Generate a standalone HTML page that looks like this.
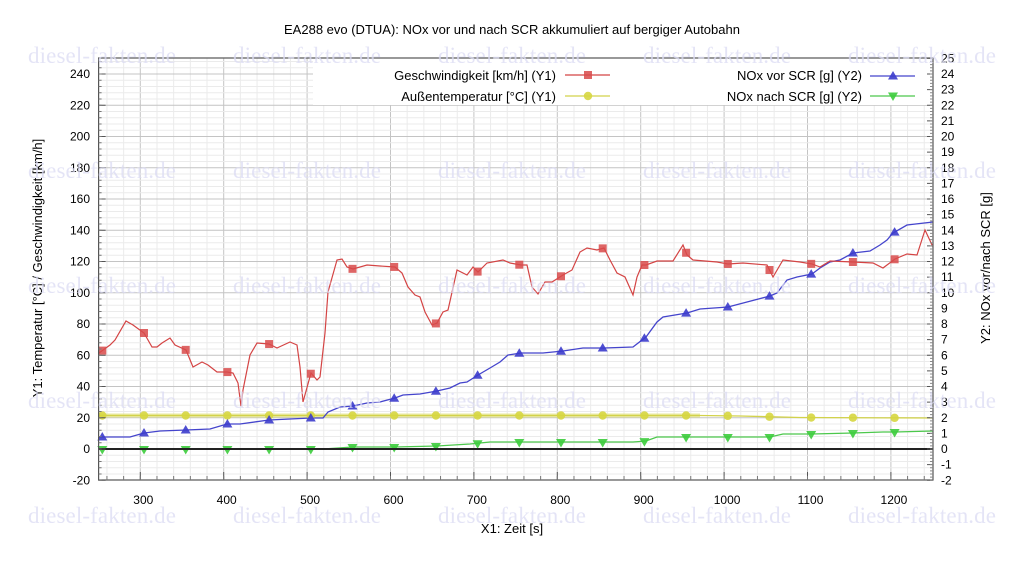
<!DOCTYPE html>
<html><head><meta charset="utf-8"><style>
html,body{margin:0;padding:0;background:#fff;}
svg{display:block;font-family:"Liberation Sans",Arial,sans-serif;}
</style></head><body>
<svg id="s" width="1024" height="576" viewBox="0 0 1024 576" xmlns="http://www.w3.org/2000/svg">
<rect width="1024" height="576" fill="#fff"/>
<g id="grid"></g>
<rect x="313" y="58" width="620" height="47" fill="#fff"/>
<g id="data"></g>
<g id="axes"></g>
<text x="512" y="34" font-size="13" text-anchor="middle">EA288 evo (DTUA): NOx vor und nach SCR akkumuliert auf bergiger Autobahn</text>
<text x="512" y="533" font-size="13" text-anchor="middle">X1: Zeit [s]</text>
<text transform="translate(42,268) rotate(-90)" font-size="13" text-anchor="middle">Y1: Temperatur [°C] / Geschwindigkeit [km/h]</text>
<text transform="translate(990,268) rotate(-90)" font-size="13" text-anchor="middle">Y2: NOx vor/nach SCR [g]</text>
<g font-size="13" text-anchor="end">
<text x="556" y="80">Geschwindigkeit [km/h] (Y1)</text>
<text x="556" y="101">Außentemperatur [°C] (Y1)</text>
<text x="862" y="80">NOx vor SCR [g] (Y2)</text>
<text x="862" y="101">NOx nach SCR [g] (Y2)</text>
</g>
<g id="leg"></g>
<g id="wm" font-family="'Liberation Serif',serif" font-size="23" fill="#dcdcf4"></g>
</svg>
<script>
var NS="http://www.w3.org/2000/svg";
function el(p,t,a,txt){var e=document.createElementNS(NS,t);for(var k in a)e.setAttribute(k,a[k]);if(txt!==undefined)e.textContent=txt;document.getElementById(p).appendChild(e);return e;}
var L=98.6,R=933,T=58,B=480;
function X(t){return L+(t-250)*0.834;}
function Y(v){return 449-1.5625*v;}
for(var t=260;t<1250;t+=20){var x=X(t);var maj=(t%100==0);el("grid","line",{x1:x,x2:x,y1:T,y2:B,stroke:maj?"#c4c4c4":"#ebebeb","stroke-width":1});}
for(var v=-16;v<250;v+=4){var y=Y(v);var maj=(v%20==0);el("grid","line",{x1:L,x2:R,y1:y,y2:y,stroke:maj?"#c4c4c4":"#ebebeb","stroke-width":1});}
el("axes","rect",{x:L,y:T,width:R-L,height:B-T,fill:"none",stroke:"#555","stroke-width":1.2});
el("axes","line",{x1:L,x2:R,y1:449,y2:449,stroke:"#222","stroke-width":2});
for(var v=-20;v<=240;v+=20){el("axes","text",{x:90,y:Y(v)+4,"font-size":12,"text-anchor":"end"},v);el("axes","line",{x1:L,x2:L+7,y1:Y(v),y2:Y(v),stroke:"#555"});}
for(var v=-20;v<=250;v+=4){el("axes","line",{x1:L,x2:L+3,y1:Y(v),y2:Y(v),stroke:"#777"});}
for(var n=-2;n<=25;n++){var y=449-15.625*n;el("axes","text",{x:941,y:y+4,"font-size":12},n);el("axes","line",{x1:R-6,x2:R,y1:y,y2:y,stroke:"#555"});}
for(var n=-2;n<=25;n+=0.2){var y=449-15.625*n;el("axes","line",{x1:R-3,x2:R,y1:y,y2:y,stroke:"#888"});}
for(var t=300;t<=1200;t+=100){el("axes","text",{x:X(t)+3,y:504,"font-size":12,"text-anchor":"middle"},t);el("axes","line",{x1:X(t),x2:X(t),y1:B,y2:B-8,stroke:"#555"});}
for(var t=260;t<1250;t+=20){el("axes","line",{x1:X(t),x2:X(t),y1:B,y2:B-4,stroke:"#777"});}
var sp=[[99,353],[110,345],[115,340],[126,321],[133,325],[144,333],[152,347],[157,347],[162,343],[170,338],[175,345],[186,350],[193,367],[202,362],[208,365],[217,372],[227,372],[233,373],[238,383],[241,406],[243,390],[250,355],[257,343],[269,344],[277,348],[290,342],[297,345],[300,367],[303,402],[311,373],[317,380],[320,377],[325,333],[328,292],[337,260],[342,259],[347,267],[353,269],[367,265],[380,266],[395,267],[402,273],[408,287],[415,295],[420,297],[425,312],[432,325],[437,323],[443,312],[448,310],[457,270],[467,275],[473,267],[478,272],[487,263],[503,260],[510,263],[521,265],[527,265],[532,287],[538,294],[545,282],[552,282],[563,275],[572,270],[580,252],[587,248],[597,250],[604,248],[610,260],[617,273],[625,277],[633,295],[637,277],[642,265],[646,265],[657,261],[673,261],[683,245],[687,255],[693,260],[717,262],[728,264],[743,263],[767,265],[770,271],[773,277],[783,260],[800,262],[812,264],[820,267],[830,261],[853,262],[873,263],[883,268],[895,259],[907,254],[917,255],[925,230],[933,247]];
var bl=[[99,437],[130,437],[144,433],[160,431],[186,430],[210,429],[227,424],[240,424],[269,420],[290,419],[311,418],[323,418],[328,412],[340,407],[353,406],[367,403],[380,402],[395,398],[403,395],[420,394],[437,391],[450,388],[460,383],[467,382],[478,375],[490,368],[500,362],[508,355],[521,353],[543,353],[563,351],[583,348],[604,348],[633,347],[646,337],[657,322],[663,317],[687,313],[700,309],[728,307],[747,302],[770,296],[777,293],[787,280],[797,277],[812,274],[820,268],[830,262],[840,260],[853,253],[870,251],[880,245],[887,240],[893,233],[907,225],[933,222]];
var gr=[[99,449],[323,449],[353,447],[395,447],[437,446],[470,444],[490,442],[518,442],[633,442],[646,441],[657,437],[687,437],[770,437],[783,434],[812,434],[853,433],[883,432],[895,432],[933,431]];
var te=[[99,415.5],[700,415.5],[740,416],[800,417.5],[933,418]];
function pts(a){return a.map(function(p){return p[0]+","+p[1];}).join(" ");}
function interp(a,x){for(var i=1;i<a.length;i++){if(a[i][0]>=x){var p=a[i-1],q=a[i];return p[1]+(q[1]-p[1])*(x-p[0])/((q[0]-p[0])||1);}}return a[a.length-1][1];}
el("data","polyline",{points:"99,415.5 700,415.5",fill:"none",stroke:"#e4e488","stroke-width":4,opacity:0.8});
el("data","polyline",{points:pts(te),fill:"none",stroke:"#d2d24a","stroke-width":1.3});
el("data","polyline",{points:pts(gr),fill:"none",stroke:"#4cc84c","stroke-width":1.3});
el("data","polyline",{points:pts(bl),fill:"none",stroke:"#4444cc","stroke-width":1.3});
el("data","polyline",{points:pts(sp),fill:"none",stroke:"#d44444","stroke-width":1.2});
function sq(g,x,y,c){el(g,"rect",{x:x-4,y:y-4,width:8,height:8,fill:c,opacity:0.85});}
function ci(g,x,y,c){el(g,"circle",{cx:x,cy:y,r:4.2,fill:c,opacity:0.9});}
function tu(g,x,y,c){el(g,"polygon",{points:(x-5)+","+(y+3.5)+" "+(x+5)+","+(y+3.5)+" "+x+","+(y-5),fill:c,opacity:0.9});}
function td(g,x,y,c){el(g,"polygon",{points:(x-5)+","+(y-3.5)+" "+(x+5)+","+(y-3.5)+" "+x+","+(y+5),fill:c,opacity:0.9});}
for(var k=0;k<20;k++){var x=102.3+41.7*k;
ci("data",x,interp(te,x),"#d6d640");
td("data",x,interp(gr,x)+0.5,"#3ccc3c");
tu("data",x,interp(bl,x),"#3c3ccc");
sq("data",x,interp(sp,x),"#d84a4a");}
el("leg","line",{x1:565,x2:610,y1:75,y2:75,stroke:"#d44444","stroke-width":1.2});sq("leg",588,75,"#d84a4a");
el("leg","line",{x1:565,x2:610,y1:96,y2:96,stroke:"#d2d24a","stroke-width":1.2});ci("leg",588,96,"#d6d640");
el("leg","line",{x1:870,x2:915,y1:76,y2:76,stroke:"#4444cc","stroke-width":1.2});tu("leg",893,76,"#3c3ccc");
el("leg","line",{x1:870,x2:915,y1:96,y2:96,stroke:"#4cc84c","stroke-width":1.2});td("leg",893,96,"#3ccc3c");
var ys=[63,178,293,408,523],xs=[28,233,438,643,848];
ys.forEach(function(y){xs.forEach(function(x){el("wm","text",{x:x,y:y,opacity:0.75,textLength:148},"diesel-fakten.de");});});
</script>
</body></html>
